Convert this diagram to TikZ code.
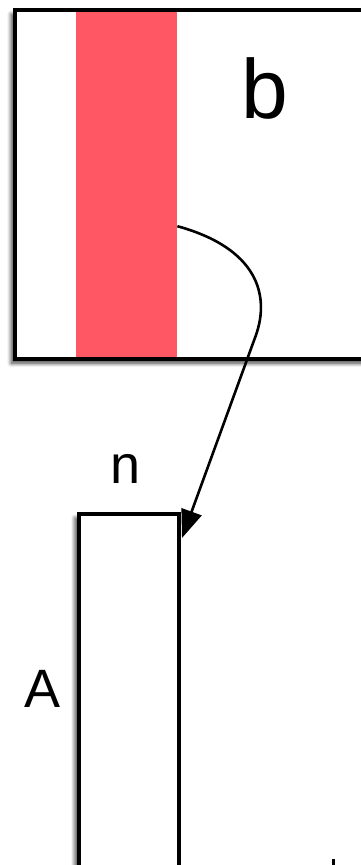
\documentclass[tikz,border=0pt]{standalone}
\usepackage{fontspec}
\setmainfont{Liberation Sans}
\usetikzlibrary{shadows.blur,arrows.meta,calc}
\definecolor{bandred}{RGB}{255,88,100}
\begin{document}
\begin{tikzpicture}[x=1pt,y=-1pt,
  shadowed/.style={fill=white,blur shadow={shadow xshift=-4pt,shadow yshift=-4pt,shadow blur radius=4pt,shadow blur steps=8,shadow opacity=75}},
  border/.style={draw=black,line width=4pt},
  lbl/.style={inner sep=0pt,anchor=base},
  conn/.style={draw=black,line width=2.6pt,-{Triangle[length=28pt,width=21pt]}}]
\useasboundingbox (0,0) rectangle (360,865);
% big box b
\node[shadowed,inner sep=0pt,minimum width=365pt,minimum height=349pt,anchor=north west] (bigbox) at (15,10) {};
\node[fill=bandred,inner sep=0pt,minimum width=101pt,minimum height=350pt,anchor=north west] (band) at (76,10) {};
\draw[border] (bigbox.north west) rectangle (bigbox.south east);
\node[lbl,font=\fontsize{84}{84}\selectfont] (blabel) at (265,118) {b};
% box A
\node[shadowed,border,inner sep=0pt,minimum width=100pt,minimum height=380pt,anchor=north west] (A) at (77,512) {};
\node[lbl,font=\fontsize{54}{54}\selectfont] (nlabel) at (126,483) {n};
\node[lbl,font=\fontsize{54}{54}\selectfont] (Alabel) at (43,707) {A};
% connector
\coordinate (s) at ($(band.east)+(0,41)$);
\coordinate (mid) at (256,335);
\coordinate (t) at ($(A.north east)+(1,26)$);
\draw[conn] (s) .. controls +(80,22) and +(14,-40) .. (mid) -- (t);
% clipped mark at bottom
\fill[black] (331.5,859) rectangle (334.5,866);
\end{tikzpicture}
\end{document}
